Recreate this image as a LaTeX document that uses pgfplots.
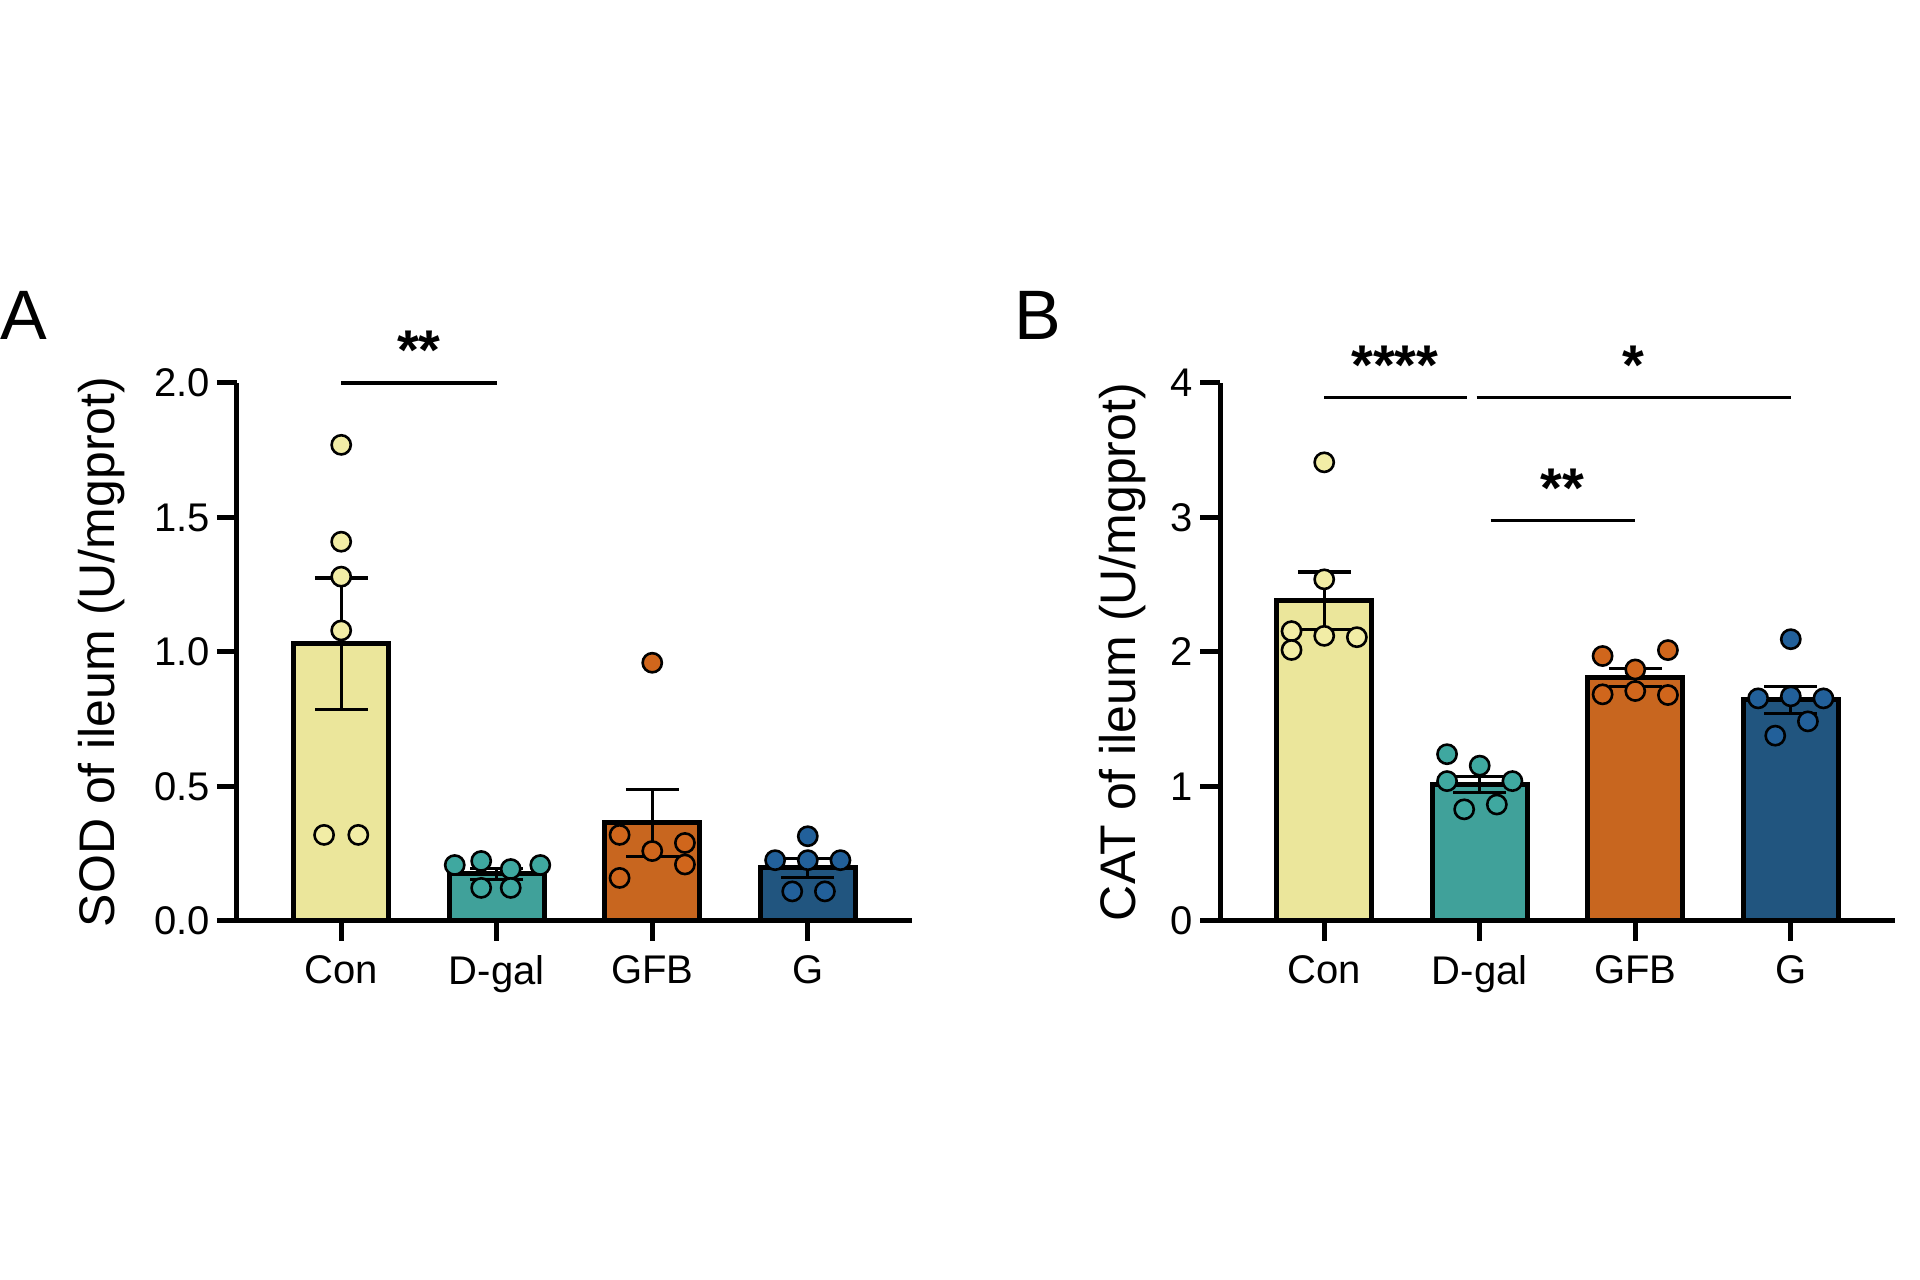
\documentclass[border=0pt]{standalone}
\usepackage{fontspec}
\setmainfont{Liberation Sans}
\usepackage{pgfplots}
\pgfplotsset{compat=1.18}
\definecolor{cYel}{HTML}{EBE69B}
\definecolor{cYelP}{HTML}{F2EDA6}
\definecolor{cTeal}{HTML}{40A19A}
\definecolor{cTealP}{HTML}{3FA8A0}
\definecolor{cOra}{HTML}{C8661F}
\definecolor{cOraP}{HTML}{D0661C}
\definecolor{cBlu}{HTML}{21557F}
\definecolor{cBluP}{HTML}{22609A}
\pgfplotsset{
  myaxis/.style={
    scale only axis, width=168.75pt, height=134.5pt, anchor=south west,
    axis lines=left, axis line style={-, line width=1.25pt, black},
    xmin=-0.67, xmax=3.67, ymin=0,
    xtick={0,1,2,3}, xticklabels={Con,D-gal,GFB,G},
    tick align=outside, tick style={black, line width=1.25pt},
    major tick length=5pt,
    ticklabel style={font=\fontsize{10}{12}\selectfont},
    yticklabel style={inner sep=1.5pt},
    /pgf/number format/assume math mode=true,
    clip=false,
    label style={font=\fontsize{12.5}{15}\selectfont},
  },
  mybar/.style={ybar, bar width=23.75pt, bar shift=0pt, draw=black, line width=1.25pt, fill=#1,
    error bars/.cd, y dir=both, y explicit,
    error bar style={line width=0.8pt, draw=black, fill=none},
    error mark=|,
    error mark options={draw=black, line width=0.8pt, mark size=6.6pt}},
  mypts/.style={only marks, mark=*, mark size=2.4pt, mark options={fill=#1, draw=black, line width=0.65pt}},
  mysig/.style={black, line width=0.8pt, mark=none},
}
\begin{document}
\begin{tikzpicture}
\path[use as bounding box] (0,0) rectangle (480pt,320pt);
\node[anchor=base west, inner sep=0, font=\fontsize{17.5}{20}\selectfont] at (0pt,235pt) {A};
\node[anchor=base west, inner sep=0, font=\fontsize{17.5}{20}\selectfont] at (253.5pt,235pt) {B};
% Panel A
\begin{axis}[myaxis, at={(59.25pt,89.75pt)}, ymax=2,
  ytick={0,0.5,1,1.5,2}, yticklabels={0.0,0.5,1.0,1.5,2.0},
  ylabel={SOD of ileum (U/mgprot)},
  ylabel style={at={(axis description cs:-0.2,0.5)}, anchor=center}]
\addplot[mybar=cYel] coordinates {(0,1.03) +- (0,0.245)};
\addplot[mybar=cTeal] coordinates {(1,0.175) +- (0,0.02)};
\addplot[mybar=cOra] coordinates {(2,0.365) +- (0,0.125)};
\addplot[mybar=cBlu] coordinates {(3,0.197) +- (0,0.035)};
\addplot[mypts=cYelP] coordinates {(0,1.77)(0,1.41)(0,1.28)(0,1.08)(-0.11,0.32)(0.11,0.32)};
\addplot[mypts=cTealP] coordinates {(0.73,0.208)(0.9,0.223)(1.09,0.193)(1.28,0.208)(0.9,0.123)(1.09,0.123)};
\addplot[mypts=cOraP] coordinates {(2,0.96)(1.79,0.32)(2,0.26)(2.21,0.29)(2.21,0.21)(1.79,0.16)};
\addplot[mypts=cBluP] coordinates {(3,0.315)(2.79,0.226)(3,0.226)(3.21,0.226)(2.9,0.11)(3.11,0.11)};
\addplot[mysig] coordinates {(0,2.0)(1,2.0)};
\node[font=\bfseries\fontsize{14}{16}\selectfont] at (axis cs:0.5,2.12) {**};
\end{axis}
% Panel B
\begin{axis}[myaxis, at={(305pt,89.75pt)}, ymax=4,
  ytick={0,1,2,3,4},
  ylabel={CAT of ileum (U/mgprot)},
  ylabel style={at={(axis description cs:-0.145,0.5)}, anchor=center}]
\addplot[mybar=cYel] coordinates {(0,2.38) +- (0,0.215)};
\addplot[mybar=cTeal] coordinates {(1,1.015) +- (0,0.06)};
\addplot[mybar=cOra] coordinates {(2,1.81) +- (0,0.065)};
\addplot[mybar=cBlu] coordinates {(3,1.645) +- (0,0.1)};
\addplot[mypts=cYelP] coordinates {(0,3.41)(0,2.54)(-0.21,2.155)(0,2.12)(0.21,2.11)(-0.21,2.015)};
\addplot[mypts=cTealP] coordinates {(0.79,1.24)(1,1.155)(0.79,1.04)(1.21,1.04)(0.9,0.83)(1.11,0.866)};
\addplot[mypts=cOraP] coordinates {(2.21,2.014)(1.79,1.97)(2,1.87)(1.79,1.685)(2,1.71)(2.21,1.68)};
\addplot[mypts=cBluP] coordinates {(3,2.095)(2.79,1.655)(3,1.67)(3.21,1.655)(3.11,1.484)(2.9,1.378)};
\addplot[mysig] coordinates {(0,3.895)(0.92,3.895)};
\addplot[mysig] coordinates {(0.98,3.895)(3,3.895)};
\addplot[mysig] coordinates {(1.07,2.98)(2,2.98)};
\node[font=\bfseries\fontsize{14}{16}\selectfont] at (axis cs:0.455,4.13) {****};
\node[font=\bfseries\fontsize{14}{16}\selectfont] at (axis cs:1.99,4.13) {*};
\node[font=\bfseries\fontsize{14}{16}\selectfont] at (axis cs:1.53,3.22) {**};
\end{axis}
\end{tikzpicture}
\end{document}
